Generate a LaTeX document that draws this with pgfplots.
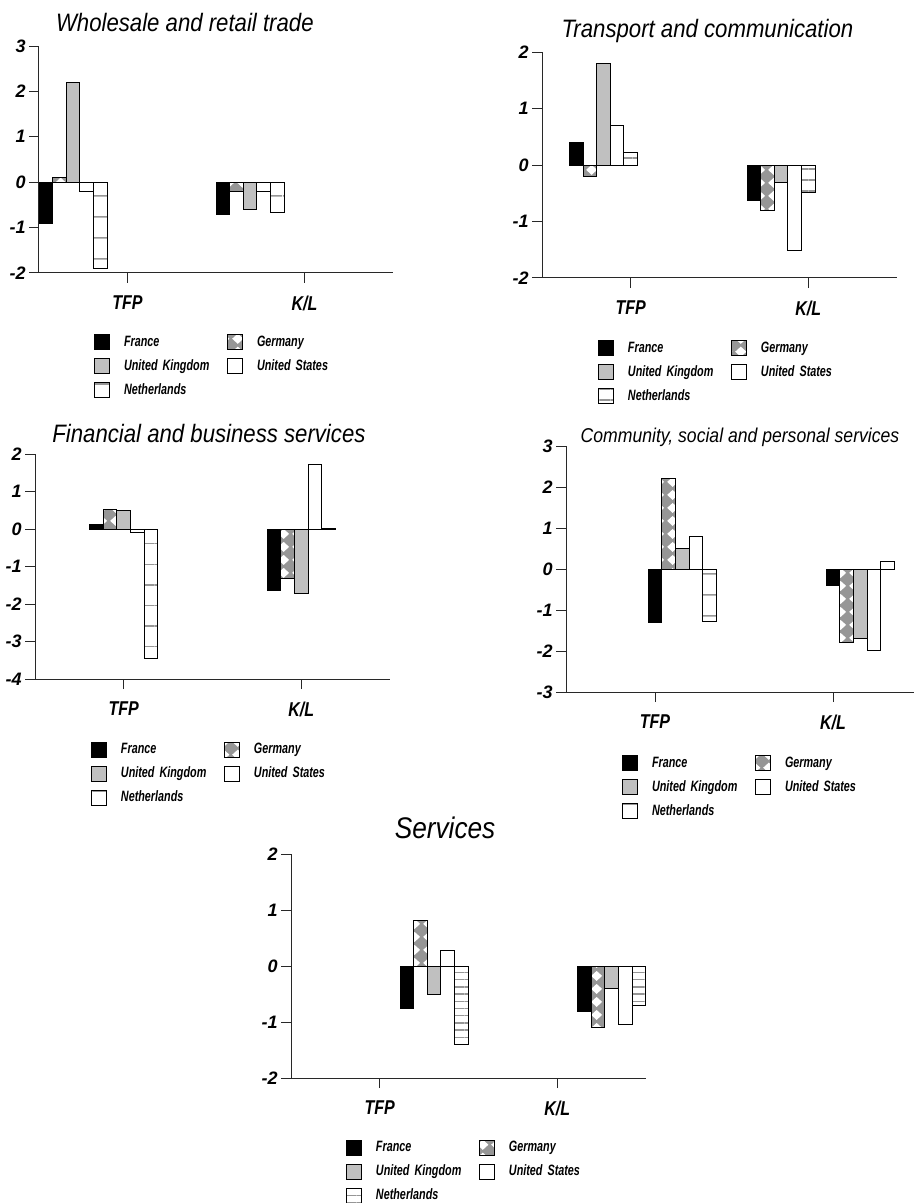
\documentclass[border=0pt]{standalone}
\usepackage{fontspec}
\setmainfont{Liberation Sans}
\newfontfamily\titlefont{Liberation Sans}[FakeStretch=0.88]
\newfontfamily\catfont{Liberation Sans}[FakeStretch=0.8]
\newfontfamily\legfont{Liberation Sans}[FakeStretch=0.72]
\usepackage{pgfplots}
\pgfplotsset{compat=1.18}
\usetikzlibrary{patterns,patterns.meta}

\definecolor{degray}{RGB}{150,150,150}
\definecolor{ukgray}{RGB}{192,192,192}
\definecolor{nlgray}{RGB}{150,150,150}
\definecolor{axgray}{RGB}{40,40,40}

\tikzdeclarepattern{
  name=gdiam,
  type=uncolored,
  bounding box={(0pt,0pt) and (6.8pt,6.5pt)},
  tile size={(6.8pt,6.5pt)},
  code={
    \fill (3.4pt,0.6pt) -- (6.2pt,3.25pt) -- (3.4pt,5.9pt) -- (0.6pt,3.25pt) -- cycle;
  }
}

\pgfplotsset{
  sqleg/.style={legend image code/.code={\draw[##1] (0pt,-3.75pt) rectangle (7.5pt,3.75pt);}},
  barbase/.style={ybar, bar width=6.8pt, line width=0.5pt, draw=black, bar shift=#1, sqleg},
  fr/.style={barbase=#1, fill=black},
  de/.style={barbase=#1, fill=degray, postaction={pattern=gdiam, pattern color=white, draw=black}},
  uk/.style={barbase=#1, fill=ukgray},
  us/.style={barbase=#1, fill=white},
  nl/.style 2 args={barbase=#1, fill=white, postaction={pattern={Lines[angle=0,distance=#2,line width=0.7pt]}, pattern color=nlgray, draw=black}},
  panel/.style={
    scale only axis, clip=false, anchor=south west,
    axis x line*=bottom, axis y line*=left,
    axis line style={line width=0.5pt, axgray, -},
    xmin=-0.5, xmax=1.5,
    xtick={0,1}, xticklabels={TFP,K/L},
    tick align=outside,
    major tick length=5pt,
    tick style={line width=0.5pt, axgray},
    ytick distance=1,
    yticklabel style={font=\bfseries\itshape\fontsize{9}{10}\selectfont, inner sep=1.5pt},
    xticklabel style={font=\catfont\bfseries\itshape\fontsize{10}{11}\selectfont, yshift=-3pt},
    /pgf/number format/assume math mode=true,
    every axis title shift=0pt,
    title style={anchor=base, inner sep=0pt, font=\titlefont\itshape\fontsize{12.6}{14}\selectfont},
    legend columns=2,
    legend cell align=left,
    legend style={draw=none, fill=none, inner sep=0pt, outer sep=0pt, anchor=north west,
      column sep=7pt, row sep=4pt,
      nodes={inner sep=0pt, text width=47pt, align=left, text height=5.8pt, text depth=1.5pt,
        font=\legfont\bfseries\itshape\fontsize{7.5}{9}\selectfont},
      /tikz/every even column/.append style={column sep=4.5pt}},
  },
}

\begin{document}
\begin{tikzpicture}
\useasboundingbox (0pt,0pt) rectangle (457.5pt,-601.5pt);

% Panel 1
\begin{axis}[panel, at={(19.5pt,-136.5pt)}, width=177pt, height=113.5pt,
  ymin=-2, ymax=3, title={Wholesale and retail trade},
  title style={at={(0.412,1)}, yshift=7.5pt},
  legend style={at={(0.1554,-0.2709)}}]
\addplot[fr=-40.8pt] coordinates {(0,-0.9) (1,-0.71)};
\addplot[de=-34pt] coordinates {(0,0.1) (1,-0.2)};
\addplot[uk=-27.2pt] coordinates {(0,2.2) (1,-0.6)};
\addplot[us=-20.4pt] coordinates {(0,-0.2) (1,-0.2)};
\addplot[nl={-13.6pt}{10.5pt}] coordinates {(0,-1.9) (1,-0.67)};
\legend{France, Germany, United Kingdom, United States, Netherlands}
\end{axis}

% Panel 2
\begin{axis}[panel, at={(271pt,-139pt)}, width=177.5pt, height=113pt,
  ymin=-2, ymax=2, title={Transport and communication},
  title style={at={(0.466,1)}, yshift=7.5pt},
  legend style={at={(0.1577,-0.2765)}}]
\addplot[fr=-27.2pt] coordinates {(0,0.4) (1,-0.62)};
\addplot[de=-20.4pt] coordinates {(0,-0.21) (1,-0.81)};
\addplot[uk=-13.6pt] coordinates {(0,1.8) (1,-0.31)};
\addplot[us=-6.8pt] coordinates {(0,0.7) (1,-1.52)};
\addplot[nl={0pt}{5.5pt}] coordinates {(0,0.22) (1,-0.48)};
\legend{France, Germany, United Kingdom, United States, Netherlands}
\end{axis}

% Panel 3
\begin{axis}[panel, at={(17.5pt,-339.5pt)}, width=177.5pt, height=112.5pt,
  ymin=-4, ymax=2, title={Financial and business services},
  title style={at={(0.490,1)}, yshift=6pt},
  legend style={at={(0.1577,-0.2778)}}]
\addplot[fr=-13.6pt] coordinates {(0,0.11) (1,-1.63)};
\addplot[de=-6.8pt] coordinates {(0,0.52) (1,-1.31)};
\addplot[uk=0pt] coordinates {(0,0.5) (1,-1.71)};
\addplot[us=6.8pt] coordinates {(0,-0.1) (1,1.71)};
\addplot[nl={13.6pt}{10.3pt}] coordinates {(0,-3.46) (1,0.02)};
\legend{France, Germany, United Kingdom, United States, Netherlands}
\end{axis}

% Panel 4
\begin{axis}[panel, at={(283pt,-346pt)}, width=174pt, height=123pt,
  xmax=1.455,
  ymin=-3, ymax=3, title={Community, social and personal services},
  title style={at={(0.5,1)}, yshift=2pt, font=\titlefont\itshape\fontsize{10}{12}\selectfont},
  legend style={at={(0.1609,-0.2581)}}]
\addplot[fr=0pt] coordinates {(0,-1.3) (1,-0.41)};
\addplot[de=6.8pt] coordinates {(0,2.2) (1,-1.79)};
\addplot[uk=13.6pt] coordinates {(0,0.51) (1,-1.7)};
\addplot[us=20.4pt] coordinates {(0,0.8) (1,-1.99)};
\addplot[nl={27.2pt}{10.5pt}] coordinates {(0,-1.27) (1,0.19)};
\legend{France, Germany, United Kingdom, United States, Netherlands}
\end{axis}

% Panel 5
\begin{axis}[panel, at={(145.5pt,-539pt)}, width=177.5pt, height=112pt,
  ymin=-2, ymax=2, title={Services},
  title style={at={(0.434,1)}, yshift=8pt, font=\titlefont\itshape\fontsize{14.9}{17}\selectfont},
  legend style={at={(0.1549,-0.2746)}}]
\addplot[fr=13.6pt] coordinates {(0,-0.76) (1,-0.82)};
\addplot[de=20.4pt] coordinates {(0,0.82) (1,-1.09)};
\addplot[uk=27.2pt] coordinates {(0,-0.51) (1,-0.41)};
\addplot[us=34pt] coordinates {(0,0.28) (1,-1.04)};
\addplot[nl={40.8pt}{3.6pt}] coordinates {(0,-1.41) (1,-0.7)};
\legend{France, Germany, United Kingdom, United States, Netherlands}
\end{axis}
\end{tikzpicture}
\end{document}
